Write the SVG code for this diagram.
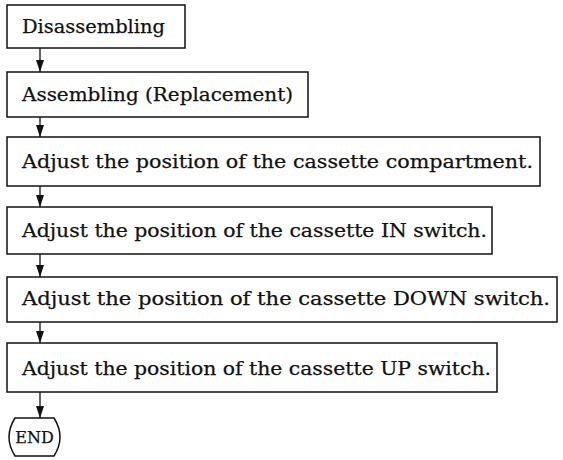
<svg xmlns="http://www.w3.org/2000/svg" width="563" height="460" viewBox="0 0 563 460">
<defs>
<marker id="ah" viewBox="0 0 12 8" markerWidth="12" markerHeight="8" refX="12" refY="4" orient="auto" markerUnits="userSpaceOnUse">
<path d="M0,0 L12,4 L0,8 Z" fill="#111"/>
</marker>
<style>
.box{fill:#fff;stroke:#111;stroke-width:1.5}
.t{font-family:"DejaVu Serif","Liberation Serif",serif;font-size:18px;fill:#111;stroke:#111;stroke-width:0.25}
.c{stroke:#111;stroke-width:1.3;fill:none}
</style>
</defs>
<rect width="563" height="460" fill="#fff"/>
<g id="connectors">
<line class="c" x1="40" y1="48" x2="40" y2="72" marker-end="url(#ah)"/>
<line class="c" x1="40" y1="117" x2="40" y2="137" marker-end="url(#ah)"/>
<line class="c" x1="40" y1="186" x2="40" y2="207" marker-end="url(#ah)"/>
<line class="c" x1="40" y1="254" x2="40" y2="277" marker-end="url(#ah)"/>
<line class="c" x1="40" y1="322" x2="40" y2="343" marker-end="url(#ah)"/>
<line class="c" x1="40" y1="392" x2="40" y2="418" marker-end="url(#ah)"/>
</g>
<g id="n1"><rect class="box" x="7" y="5" width="178" height="43"/><text class="t" x="22" y="33" textLength="143" lengthAdjust="spacingAndGlyphs">Disassembling</text></g>
<g id="n2"><rect class="box" x="7" y="72" width="301" height="45"/><text class="t" x="22" y="101" textLength="271" lengthAdjust="spacingAndGlyphs">Assembling (Replacement)</text></g>
<g id="n3"><rect class="box" x="7" y="137" width="533" height="49"/><text class="t" x="22" y="168" textLength="511" lengthAdjust="spacingAndGlyphs">Adjust the position of the cassette compartment.</text></g>
<g id="n4"><rect class="box" x="7" y="207" width="485" height="47"/><text class="t" x="22" y="237" textLength="465" lengthAdjust="spacingAndGlyphs">Adjust the position of the cassette IN switch.</text></g>
<g id="n5"><rect class="box" x="7" y="277" width="550" height="45"/><text class="t" x="22" y="305" textLength="528" lengthAdjust="spacingAndGlyphs">Adjust the position of the cassette DOWN switch.</text></g>
<g id="n6"><rect class="box" x="7" y="343" width="490" height="49"/><text class="t" x="22" y="375" textLength="469" lengthAdjust="spacingAndGlyphs">Adjust the position of the cassette UP switch.</text></g>
<g id="n7"><path class="box" d="M15,418 L54,418 Q66,437 54,456 L15,456 Q3,437 15,418 Z"/><text class="t" x="34.5" y="443" text-anchor="middle" style="font-size:16px">END</text></g>
</svg>
